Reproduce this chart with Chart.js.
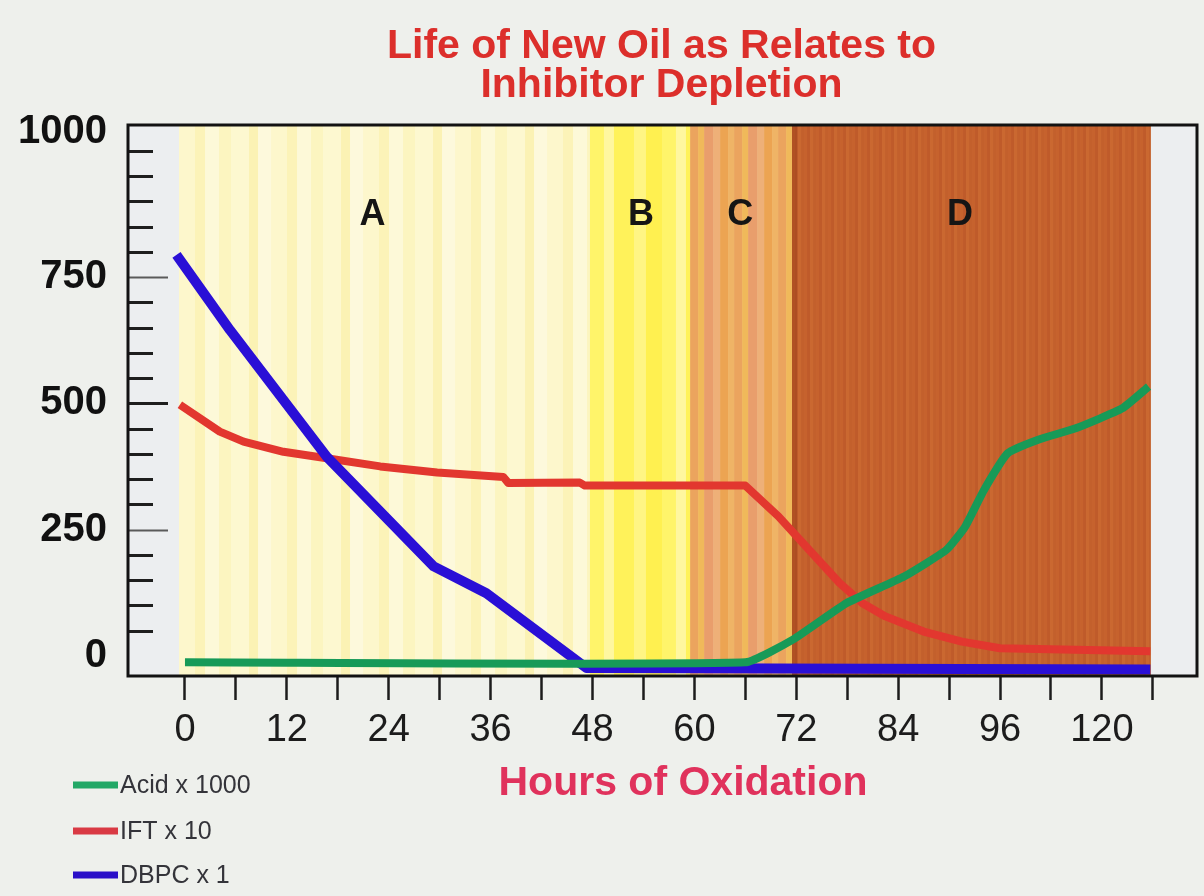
<!DOCTYPE html>
<html>
<head>
<meta charset="utf-8">
<script src="https://cdn.jsdelivr.net/npm/chart.js@4.4.1/dist/chart.umd.min.js"></script>
<style>
  html, body { margin: 0; padding: 0; background: #eef0ec; }
  #wrap { width: 1204px; height: 896px; position: relative; }
</style>
</head>
<body>
<div id="wrap"><canvas id="c" width="1204" height="896"></canvas></div>
<script>
// ---------------- data ----------------
const titleLines = ['Life of New Oil as Relates to', 'Inhibitor Depletion'];
const xAxisTitle = 'Hours of Oxidation';
const seriesLabels = ['Acid x 1000', 'IFT x 10', 'DBPC x 1'];
const seriesColors = ['#179a58', '#e2372f', '#2a0fd6'];
const legendColors = ['#22a866', '#d93a44', '#2a0fc8'];

const acidHours  = [0, 66, 71.6, 77.9, 84.7, 89.7, 91.9, 94.1, 96.9, 100.5, 105, 110.4, 113.5];
const acidValues = [-13, -13, 32, 104, 157, 210, 256, 328, 401, 428, 451, 490, 533];

const iftHours  = [-0.6, 4.1, 6.9, 11.6, 16.7, 23, 29.7, 37.5, 38.1, 46.5, 47.1, 66, 69.9, 73.5, 77.1, 79.8, 82.5, 87, 91.5, 96, 113.7];
const iftValues = [497, 444, 424, 404, 391, 375, 363, 354, 342, 343, 337, 337, 276, 210, 144, 104, 78, 48, 28, 15, 9];

const dbpcHours  = [-1, 5.3, 16.7, 29.3, 35.5, 47.3, 113.7];
const dbpcValues = [794, 645, 394, 177, 124, -24, -27];

const xTickValues = [0, 6, 12, 18, 24, 30, 36, 42, 48, 54, 60, 66, 72, 78, 84, 90, 96, 102, 108, 114];
const xTickLabels = ['0', '', '12', '', '24', '', '36', '', '48', '', '60', '', '72', '', '84', '', '96', '', '120', ''];
const yTickValues = [0, 250, 500, 750, 1000];
const yTickLabels = ['0', '250', '500', '750', '1000'];
const yMinorTickValues = [50,100,150,200,250,300,350,400,450,500,550,600,650,700,750,800,850,900,950,1000];
const yLongTickValues = [250, 500, 750];

const zoneLabels = ['A', 'B', 'C', 'D'];
const zoneStart = [-0.7, 47.7, 59.5, 71.5];
const zoneEnd   = [47.7, 59.5, 71.5, 113.7];
const zoneLabelHours = [22.1, 53.7, 65.4, 91.3];
const zoneLabelValue = 873;

// ---------------- styling ----------------
const pageBg = '#eef0ec';
const zonePalettes = [
  ['#fdf7cc', '#fcf3b8', '#fdf9d8', '#fcf5c0', '#fdf8d0', '#fbf2b4', '#fdf9dc'],
  ['#fff46a', '#fff7a0', '#fff25a', '#fff584', '#fff050'],
  ['#eba45e', '#f0b95a', '#e99e6c', '#eeb078', '#eca452', '#efb466'],
  ['#c6622d', '#bf5b2a', '#ca6830', '#c3602c']
];
const zoneStripeWidths = [
  [16, 10, 14, 12, 18, 9, 13],
  [14, 10, 20, 12, 16],
  [8, 6, 9, 7, 8, 6],
  [3, 3, 3, 3]
];
const FONT = '"Liberation Sans", Arial, Helvetica, sans-serif';
const NARROW = '"Liberation Sans Narrow", "Liberation Sans", Arial, sans-serif';

function zip(xs, ys) { return xs.map((x, i) => ({ x: x, y: ys[i] })); }

const decor = {
  id: 'decor',
  beforeDraw(chart) {
    const { ctx, chartArea: a, scales: { x, y } } = chart;
    ctx.save();
    ctx.fillStyle = pageBg;
    ctx.fillRect(0, 0, chart.width, chart.height);
    ctx.fillStyle = '#eceef0';
    ctx.fillRect(a.left, a.top, a.right - a.left, a.bottom - a.top);
    zoneStart.forEach((s, i) => {
      const x0 = x.getPixelForValue(s), x1 = x.getPixelForValue(zoneEnd[i]);
      const pal = zonePalettes[i], ws = zoneStripeWidths[i];
      let px = x0, k = 0;
      while (px < x1) {
        const w = Math.min(ws[k % ws.length], x1 - px);
        ctx.fillStyle = pal[k % pal.length];
        ctx.fillRect(px, a.top, w + 0.6, a.bottom - a.top);
        px += w; k++;
      }
    });
    // darker edge at start of D
    const dx = x.getPixelForValue(zoneStart[3]);
    ctx.fillStyle = 'rgba(150,60,25,0.45)';
    ctx.fillRect(dx, a.top, 5, a.bottom - a.top);
    // zone letters
    ctx.fillStyle = '#151515';
    ctx.font = 'bold 36px ' + FONT;
    ctx.textAlign = 'center';
    ctx.textBaseline = 'middle';
    zoneLabels.forEach((t, i) => {
      ctx.fillText(t, x.getPixelForValue(zoneLabelHours[i]), y.getPixelForValue(zoneLabelValue));
    });
    ctx.restore();
  },
  afterDatasetsDraw(chart) {
    const { ctx, chartArea: a, scales: { y } } = chart;
    ctx.save();
    // y tick marks pointing inward
    yMinorTickValues.forEach(v => {
      const py = Math.round(y.getPixelForValue(v)) + 0.5;
      const isLong = yLongTickValues.includes(v);
      ctx.strokeStyle = (isLong && v !== 500) ? '#5a5a5a' : '#1e1e1e';
      ctx.lineWidth = (isLong && v !== 500) ? 2 : 3;
      ctx.beginPath();
      ctx.moveTo(a.left, py);
      ctx.lineTo(a.left + (isLong ? 40 : 25), py);
      ctx.stroke();
    });
    // frame
    ctx.strokeStyle = '#121212';
    ctx.lineWidth = 3;
    ctx.strokeRect(a.left, a.top, a.right - a.left, a.bottom - a.top);
    ctx.restore();
  },
  afterDraw(chart) {
    const { ctx, chartArea: a } = chart;
    ctx.save();
    // title
    ctx.fillStyle = '#dc2f2b';
    ctx.font = 'bold 41px ' + FONT;
    ctx.textAlign = 'center';
    ctx.textBaseline = 'alphabetic';
    const cx = (a.left + a.right) / 2 - 1;
    ctx.fillText(titleLines[0], cx, 58);
    ctx.fillText(titleLines[1], cx, 97);
    // x axis title
    ctx.fillStyle = '#e0325c';
    ctx.font = 'bold 41px ' + FONT;
    ctx.fillText(xAxisTitle, 683, 795);
    // legend
    ctx.textAlign = 'left';
    ctx.textBaseline = 'middle';
    ctx.font = '25px ' + FONT;
    const rows = [785, 831, 875];
    seriesLabels.forEach((lab, i) => {
      ctx.strokeStyle = legendColors[i];
      ctx.lineWidth = 7;
      ctx.lineCap = 'butt';
      ctx.beginPath();
      ctx.moveTo(73, rows[i]);
      ctx.lineTo(118, rows[i]);
      ctx.stroke();
      ctx.fillStyle = '#34343a';
      ctx.fillText(lab, 120, rows[i] + 1);
    });
    ctx.restore();
  }
};

const ds = (label, xs, ys, color, width, order, tension) => ({
  label: label,
  data: zip(xs, ys),
  borderColor: color,
  backgroundColor: color,
  borderWidth: width,
  pointRadius: 0,
  tension: tension,
  borderJoinStyle: 'round',
  borderCapStyle: 'butt',
  fill: false,
  order: order
});

new Chart(document.getElementById('c'), {
  type: 'line',
  data: {
    datasets: [
      ds(seriesLabels[0], acidHours, acidValues, seriesColors[0], 8, 0, 0.15),
      ds(seriesLabels[1], iftHours, iftValues, seriesColors[1], 8, 2, 0),
      ds(seriesLabels[2], dbpcHours, dbpcValues, seriesColors[2], 10, 1, 0)
    ]
  },
  options: {
    responsive: false,
    animation: false,
    layout: { padding: { top: 125, right: 7, left: 0, bottom: 0 } },
    plugins: {
      legend: { display: false },
      title: { display: false },
      tooltip: { enabled: false }
    },
    scales: {
      x: {
        type: 'linear',
        min: -6.71,
        max: 119.2,
        afterFit: s => { s.height = 220; },
        afterBuildTicks: s => { s.ticks = xTickValues.map(v => ({ value: v })); },
        border: { display: false },
        grid: {
          display: true,
          drawOnChartArea: false,
          drawTicks: true,
          tickLength: 24,
          tickWidth: 2.5,
          tickColor: '#1c1c1c'
        },
        ticks: {
          autoSkip: false,
          maxRotation: 0,
          padding: 12,
          color: '#1c1c1c',
          font: { family: NARROW, size: 38, lineHeight: 1 },
          callback: (v, i) => xTickLabels[i]
        }
      },
      y: {
        type: 'linear',
        min: -40,
        max: 1051,
        afterFit: s => { s.width = 128; },
        afterBuildTicks: s => { s.ticks = yTickValues.map(v => ({ value: v })); },
        border: { display: false },
        grid: { display: false, drawTicks: false },
        ticks: {
          padding: 21,
          color: '#111111',
          font: { family: FONT, size: 40, weight: 'bold', lineHeight: 0.95 },
          callback: (v, i) => (yTickValues[i] === 1000 ? [yTickLabels[i], ''] : yTickLabels[i])
        }
      }
    }
  },
  plugins: [decor]
});
</script>
</body>
</html>
